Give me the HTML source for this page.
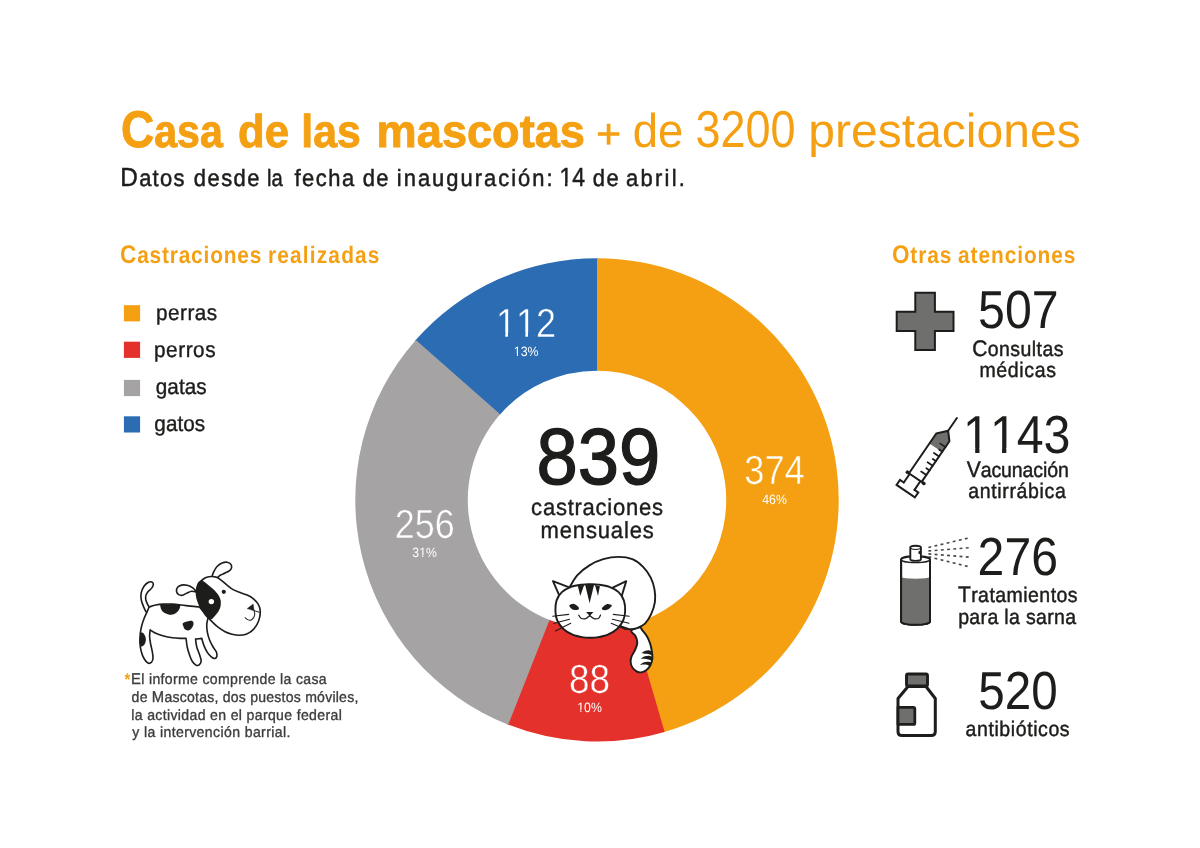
<!DOCTYPE html>
<html lang="es"><head><meta charset="utf-8"><title>Casa de las mascotas</title>
<style>
html,body{margin:0;padding:0;background:#fff}
body{width:1200px;height:848px;overflow:hidden}
svg{display:block;font-family:"Liberation Sans",sans-serif}
text{white-space:pre;text-rendering:geometricPrecision}
</style></head><body>
<svg width="1200" height="848" viewBox="0 0 1200 848">
<rect width="1200" height="848" fill="#fff"/>
<g id="donut">
<path fill="#2B6CB3" d="M415.00 340.85A241.7 241.7 0 0 1 598.27 258.20L597.68 370.70A129.2 129.2 0 0 0 499.71 414.88Z"/>
<path fill="#F4A012" d="M597.00 258.20A241.7 241.7 0 0 1 663.42 732.30L632.50 624.13A129.2 129.2 0 0 0 597.00 370.70Z"/>
<path fill="#E4312B" d="M664.63 731.94A241.7 241.7 0 0 1 507.04 724.24L548.91 619.82A129.2 129.2 0 0 0 633.15 623.94Z"/>
<path fill="#A5A3A4" d="M508.22 724.70A241.7 241.7 0 0 1 415.84 339.90L500.16 414.37A129.2 129.2 0 0 0 549.54 620.07Z"/>
</g>
<g id="title">
<g transform="translate(121.01 146.60) scale(0.8932 1)"><text font-size="46" font-weight="700" fill="#F4A012" stroke="#F4A012" stroke-width="0.9" aria-label="Casa"><tspan font-size="51.5">C</tspan>asa</text></g>
<g transform="translate(238.10 146.60) scale(0.9502 1)"><text font-size="46" font-weight="700" fill="#F4A012" stroke="#F4A012" stroke-width="0.9">de</text></g>
<g transform="translate(301.27 146.60) scale(0.9293 1)"><text font-size="46" font-weight="700" fill="#F4A012" stroke="#F4A012" stroke-width="0.9">las</text></g>
<g transform="translate(376.61 146.60) scale(0.9818 1)"><text font-size="46" font-weight="700" fill="#F4A012" stroke="#F4A012" stroke-width="0.9">mascotas</text></g>
<g transform="translate(595.91 147.70) scale(1.0302 1)"><text font-size="41.8" fill="#F4A012" stroke="#F4A012" stroke-width="0.5">+</text></g>
<g transform="translate(632.68 146.60) scale(0.9555 1)"><text font-size="47.6" fill="#F4A012">de</text></g>
<g transform="translate(695.43 146.60) scale(0.8640 1)"><text font-size="47.6" fill="#F4A012"><tspan font-size="52">3200</tspan></text></g>
<g transform="translate(808.37 146.60) scale(1.0090 1)"><text font-size="47.6" fill="#F4A012">prestaciones</text></g>
</g>
<g id="subtitle">
<g transform="translate(120.30 186.40) scale(0.9300 1)"><text font-size="23.6" fill="#1D1D1B" stroke="#1D1D1B" stroke-width="0.5" letter-spacing="1.35" aria-label="Datos"><tspan font-size="26.2">D</tspan>atos</text></g>
<g transform="translate(193.87 186.40) scale(0.9300 1)"><text font-size="23.6" fill="#1D1D1B" stroke="#1D1D1B" stroke-width="0.5" letter-spacing="1.54">desde</text></g>
<g transform="translate(266.94 186.40) scale(0.8567 1)"><text font-size="23.6" fill="#1D1D1B" stroke="#1D1D1B" stroke-width="0.5">la</text></g>
<g transform="translate(294.53 186.40) scale(0.9300 1)"><text font-size="23.6" fill="#1D1D1B" stroke="#1D1D1B" stroke-width="0.5" letter-spacing="1.60">fecha</text></g>
<g transform="translate(362.67 186.40) scale(0.9300 1)"><text font-size="23.6" fill="#1D1D1B" stroke="#1D1D1B" stroke-width="0.5" letter-spacing="1.58">de</text></g>
<g transform="translate(396.82 186.40) scale(0.9300 1)"><text font-size="23.6" fill="#1D1D1B" stroke="#1D1D1B" stroke-width="0.5" letter-spacing="2.15">inauguración:</text></g>
<g transform="translate(592.67 186.40) scale(0.9300 1)"><text font-size="23.6" fill="#1D1D1B" stroke="#1D1D1B" stroke-width="0.5" letter-spacing="1.69">de</text></g>
<g transform="translate(626.07 186.40) scale(0.9300 1)"><text font-size="23.6" fill="#1D1D1B" stroke="#1D1D1B" stroke-width="0.5" letter-spacing="2.42">abril.</text></g>
<g transform="translate(559.44 186.40) scale(0.8752 1)"><text font-size="23.6" fill="#1D1D1B" stroke="#1D1D1B" stroke-width="0.5" style="font-kerning:none"><tspan font-size="26.2">14</tspan></text><rect x="0.99" y="-3.41" width="5.31" height="4.01" fill="#fff"/><rect x="9.19" y="-3.41" width="5.06" height="4.01" fill="#fff"/></g>
</g>
<g id="headings">
<g transform="translate(120.10 262.80) scale(0.8800 1)"><text font-size="23.7" font-weight="700" fill="#F4A012" letter-spacing="0.93" aria-label="Castraciones"><tspan font-size="25.6">C</tspan>astraciones</text></g>
<g transform="translate(267.94 262.80) scale(0.8800 1)"><text font-size="23.7" font-weight="700" fill="#F4A012" letter-spacing="1.35">realizadas</text></g>
<g transform="translate(891.90 262.80) scale(0.8800 1)"><text font-size="23.7" font-weight="700" fill="#F4A012" letter-spacing="1.04" aria-label="Otras"><tspan font-size="25.6">O</tspan>tras</text></g>
<g transform="translate(957.98 262.80) scale(0.8800 1)"><text font-size="23.7" font-weight="700" fill="#F4A012" letter-spacing="1.08">atenciones</text></g>
</g>
<g id="legend">
<rect x="123.9" y="305.2" width="16.2" height="16.2" fill="#F4A012"/>
<rect x="123.9" y="341.7" width="16.2" height="16.2" fill="#E4312B"/>
<rect x="123.9" y="379.9" width="16.2" height="16.2" fill="#A5A3A4"/>
<rect x="123.9" y="416.3" width="16.2" height="16.2" fill="#2B6CB3"/>
<g transform="translate(155.96 319.80) scale(0.9400 1)"><text font-size="22" fill="#1D1D1B" stroke="#1D1D1B" stroke-width="0.4" letter-spacing="0.56">perras</text></g>
<g transform="translate(153.96 356.80) scale(0.9400 1)"><text font-size="22" fill="#1D1D1B" stroke="#1D1D1B" stroke-width="0.4" letter-spacing="0.63">perros</text></g>
<g transform="translate(155.67 394.10) scale(0.9400 1)"><text font-size="22" fill="#1D1D1B" stroke="#1D1D1B" stroke-width="0.4" letter-spacing="0.12">gatas</text></g>
<g transform="translate(154.37 431.30) scale(0.9400 1)"><text font-size="22" fill="#1D1D1B" stroke="#1D1D1B" stroke-width="0.4" letter-spacing="0.06">gatos</text></g>
</g>
<g id="dlabels">
<g transform="translate(495.98 336.90) scale(0.8877 1)"><text font-size="40.6" fill="#fff" stroke="#2B6CB3" stroke-width="0.5" style="font-kerning:none">112</text><rect x="1.98" y="-4.23" width="8.52" height="4.83" fill="#2B6CB3"/><rect x="13.52" y="-4.23" width="7.52" height="4.83" fill="#2B6CB3"/><rect x="24.56" y="-4.23" width="8.52" height="4.83" fill="#2B6CB3"/><rect x="36.10" y="-4.23" width="7.52" height="4.83" fill="#2B6CB3"/></g>
<g transform="translate(513.81 356.20) scale(0.9145 1)"><text font-size="13.5" fill="#fff">13%</text><rect x="0.12" y="-2.21" width="3.27" height="2.81" fill="#2B6CB3"/><rect x="4.59" y="-2.21" width="2.90" height="2.81" fill="#2B6CB3"/></g>
<g transform="translate(744.28 484.40) scale(0.8934 1)"><text font-size="40.6" fill="#fff" stroke="#F4A012" stroke-width="0.5">374</text></g>
<g transform="translate(762.25 503.90) scale(0.9091 1)"><text font-size="13.5" fill="#fff">46%</text></g>
<g transform="translate(394.75 537.50) scale(0.8870 1)"><text font-size="40.6" fill="#fff" stroke="#A5A3A4" stroke-width="0.5">256</text></g>
<g transform="translate(412.37 557.20) scale(0.9047 1)"><text font-size="13.5" fill="#fff">31%</text><rect x="7.63" y="-2.21" width="3.27" height="2.81" fill="#A5A3A4"/><rect x="12.10" y="-2.21" width="2.90" height="2.81" fill="#A5A3A4"/></g>
<g transform="translate(568.97 692.80) scale(0.9101 1)"><text font-size="40.6" fill="#fff" stroke="#E4312B" stroke-width="0.5">88</text></g>
<g transform="translate(577.22 712.00) scale(0.9105 1)"><text font-size="13.5" fill="#fff">10%</text><rect x="0.12" y="-2.21" width="3.27" height="2.81" fill="#E4312B"/><rect x="4.59" y="-2.21" width="2.90" height="2.81" fill="#E4312B"/></g>
</g>
<g id="center">
<g transform="translate(536.48 483.50) scale(0.9329 1)"><text font-size="79.5" fill="#1D1D1B" stroke="#1D1D1B" stroke-width="1.4">839</text></g>
<g transform="translate(531.12 514.90) scale(0.9500 1)"><text font-size="23.2" fill="#1D1D1B" stroke="#1D1D1B" stroke-width="0.4" letter-spacing="0.79">castraciones</text></g>
<g transform="translate(540.52 537.90) scale(0.9500 1)"><text font-size="23.2" fill="#1D1D1B" stroke="#1D1D1B" stroke-width="0.4" letter-spacing="0.88">mensuales</text></g>
</g>
<g id="right">
<g transform="translate(978.12 327.60) scale(0.9002 1)"><text font-size="53.6" fill="#1D1D1B">507</text></g>
<g transform="translate(972.17 356.00) scale(0.9300 1)"><text font-size="21" fill="#1D1D1B" stroke="#1D1D1B" stroke-width="0.45" letter-spacing="0.45" aria-label="Consultas"><tspan font-size="22.6">C</tspan>onsultas</text></g>
<g transform="translate(979.46 377.40) scale(0.9300 1)"><text font-size="21" fill="#1D1D1B" stroke="#1D1D1B" stroke-width="0.45" letter-spacing="0.68">médicas</text></g>
<g transform="translate(963.05 453.00) scale(0.9010 1)"><text font-size="53.6" fill="#1D1D1B" style="font-kerning:none">1143</text><rect x="2.86" y="-5.20" width="10.61" height="5.80" fill="#fff"/><rect x="18.22" y="-5.20" width="9.73" height="5.80" fill="#fff"/><rect x="32.67" y="-5.20" width="10.61" height="5.80" fill="#fff"/><rect x="48.03" y="-5.20" width="9.73" height="5.80" fill="#fff"/></g>
<g transform="translate(966.73 477.30) scale(0.9300 1)"><text font-size="21" fill="#1D1D1B" stroke="#1D1D1B" stroke-width="0.45" letter-spacing="-0.11" aria-label="Vacunación"><tspan font-size="22.6">V</tspan>acunación</text></g>
<g transform="translate(968.29 498.40) scale(0.9300 1)"><text font-size="21" fill="#1D1D1B" stroke="#1D1D1B" stroke-width="0.45" letter-spacing="0.68">antirrábica</text></g>
<g transform="translate(977.59 574.70) scale(0.8989 1)"><text font-size="53.6" fill="#1D1D1B">276</text></g>
<g transform="translate(957.90 602.20) scale(0.9300 1)"><text font-size="21" fill="#1D1D1B" stroke="#1D1D1B" stroke-width="0.45" letter-spacing="0.47" aria-label="Tratamientos"><tspan font-size="22.6">T</tspan>ratamientos</text></g>
<g transform="translate(958.15 623.60) scale(0.9300 1)"><text font-size="21" fill="#1D1D1B" stroke="#1D1D1B" stroke-width="0.45" letter-spacing="0.36">para la sarna</text></g>
<g transform="translate(978.20 708.80) scale(0.8881 1)"><text font-size="53.6" fill="#1D1D1B">520</text></g>
<g transform="translate(965.54 735.80) scale(0.9300 1)"><text font-size="21" fill="#1D1D1B" stroke="#1D1D1B" stroke-width="0.45" letter-spacing="0.62">antibióticos</text></g>
</g>
<g id="foot">
<g transform="translate(124.50 684.60) scale(0.8748 1)"><text font-size="17" font-weight="700" fill="#F4A012">*</text></g>
<g transform="translate(130.99 683.70) scale(0.9500 1)"><text font-size="14.8" fill="#3C3C3B" stroke="#3C3C3B" stroke-width="0.35" letter-spacing="0.36" aria-label="El informe comprende la casa"><tspan font-size="15.6">E</tspan>l informe comprende la casa</text></g>
<g transform="translate(131.61 701.70) scale(0.9500 1)"><text font-size="14.8" fill="#3C3C3B" stroke="#3C3C3B" stroke-width="0.35" letter-spacing="0.24" aria-label="de Mascotas, dos puestos móviles,">de <tspan font-size="15.6">M</tspan>ascotas, dos puestos móviles,</text></g>
<g transform="translate(131.26 719.50) scale(0.9500 1)"><text font-size="14.8" fill="#3C3C3B" stroke="#3C3C3B" stroke-width="0.35" letter-spacing="0.37">la actividad en el parque federal</text></g>
<g transform="translate(132.18 737.40) scale(0.9500 1)"><text font-size="14.8" fill="#3C3C3B" stroke="#3C3C3B" stroke-width="0.35" letter-spacing="0.41">y la intervención barrial.</text></g>
</g>
<g id="icon-cross" fill="#6F6F6E" stroke="#1D1D1B" stroke-width="2" stroke-linejoin="miter">
<path d="M915.3 292.8H934.9V311.7H953.5V331H934.9V349.9H915.3V331H896.7V311.7H915.3Z"/>
</g>
<g id="icon-syringe" transform="translate(956.9 418) rotate(34.4)" fill="none" stroke="#1D1D1B" stroke-width="2" stroke-linecap="round" stroke-linejoin="round">
<path d="M0 0V15.5"/>
<path d="M-8.3 24.4L0 15.5L7 23.4V36.5H-8.3Z" fill="#6F6F6E" stroke="none"/>
<path d="M-8.3 72V24.4L0 15.5L7 23.4V72"/>
<path d="M7 30.5H0.8M7 36.1H3.2M7 41.8H0.8M7 47.4H3.2M7 53.1H0.8M7 58.7H3.2M7 64.4H0.8" stroke-width="1.8"/>
<path d="M-10.2 72.7H9.6" stroke-width="2"/>
<circle cx="-10.2" cy="72.7" r="1.5" fill="#1D1D1B" stroke-width="0.8"/><circle cx="9.6" cy="72.7" r="1.5" fill="#1D1D1B" stroke-width="0.8"/>
<path d="M-7.4 73.5V83.2M5.6 73.5V83.2"/>
<path d="M-7.4 83.2H-12V89.3H10.2V83.2H5.6" stroke-linejoin="miter"/>
</g>
<g id="icon-spray">
<path d="M928.4 547.5L968.2 538.1M928.4 550.9L968.9 547.8M928.4 553.9L968.9 557.1M928.4 556.7L968.2 566.5" fill="none" stroke="#4a4a49" stroke-width="1.6" stroke-dasharray="2.9 3.35"/>
<path d="M901.1 559.5V621.6A14.45 3.2 0 0 0 930 621.6V559.5A14.45 3.2 0 0 0 901.1 559.5Z" fill="#fff" stroke="#1D1D1B" stroke-width="2"/>
<path d="M901.6 577.2A14 1.6 0 0 0 929.5 577.2V621.6A14 3 0 0 1 901.6 621.6Z" fill="#6F6F6E"/>
<path d="M901.1 559.5V621.6A14.45 3.2 0 0 0 930 621.6V559.5" fill="none" stroke="#1D1D1B" stroke-width="2"/>
<path d="M901.1 559.5A14.45 3.2 0 0 0 930 559.5" fill="none" stroke="#1D1D1B" stroke-width="1.3"/>
<path d="M910.3 559.3V547.6A5.3 1.9 0 0 1 920.9 547.6V559.3A5.3 1.6 0 0 1 910.3 559.3Z" fill="#fff" stroke="#1D1D1B" stroke-width="1.9"/>
<path d="M910.3 547.6A5.3 1.9 0 0 0 920.9 547.6" fill="none" stroke="#1D1D1B" stroke-width="1.1"/>
<ellipse cx="919.3" cy="552.5" rx="0.9" ry="1.8" fill="#1D1D1B"/>
</g>
<g id="icon-bottle" stroke="#1D1D1B" stroke-linejoin="round">
<path d="M908 686.5L898 698.5V731.5Q898 735.5 902 735.5H931Q935.3 735.5 935.3 731.5V698.5L926 686.5Z" fill="#fff" stroke-width="3"/>
<rect x="906.5" y="674" width="21" height="12" rx="1.5" fill="#6F6F6E" stroke-width="2.9"/>
<path d="M898 707.3H913.3Q914.8 707.3 914.8 708.8V722.9Q914.8 724.4 913.3 724.4H898Z" fill="#6F6F6E" stroke-width="2.8"/>
</g>
<g id="dog-body" transform="translate(130 575) scale(0.11208)" fill="#fff" stroke="#1D1D1B" stroke-width="14.5" stroke-linecap="round" stroke-linejoin="round">
<path d="M150.0 335.0C139.2 328.3 128.3 299.2 120.0 280.0C111.7 260.8 103.3 240.0 100.0 220.0C96.7 200.0 95.8 180.0 100.0 160.0C104.2 140.0 114.2 115.8 125.0 100.0C135.8 84.2 153.3 71.3 165.0 65.0C176.7 58.7 187.8 59.2 195.0 62.0C202.2 64.8 208.0 73.2 208.0 82.0C208.0 90.8 203.0 103.7 195.0 115.0C187.0 126.3 169.2 137.5 160.0 150.0C150.8 162.5 142.5 175.8 140.0 190.0C137.5 204.2 140.0 218.8 145.0 235.0C150.0 251.2 163.3 272.8 170.0 287.0C176.7 301.2 188.3 312.0 185.0 320.0C181.7 328.0 160.8 341.7 150.0 335.0Z"/>
<path d="M170.0 286.0C180.0 283.0 208.3 272.3 230.0 268.0C251.7 263.7 275.0 261.3 300.0 260.0C325.0 258.7 353.3 258.7 380.0 260.0C406.7 261.3 433.3 265.0 460.0 268.0C486.7 271.0 513.3 275.0 540.0 278.0C566.7 281.0 606.7 284.7 620.0 286.0L620.0 286.0C626.7 293.3 647.2 314.3 660.0 330.0C672.8 345.7 690.8 371.7 697.0 380.0L697.0 380.0C695.0 390.0 686.2 418.3 685.0 440.0C683.8 461.7 685.8 486.7 690.0 510.0C694.2 533.3 701.7 558.3 710.0 580.0C718.3 601.7 730.0 622.5 740.0 640.0C750.0 657.5 764.2 670.8 770.0 685.0C775.8 699.2 777.5 715.0 775.0 725.0C772.5 735.0 763.3 744.2 755.0 745.0C746.7 745.8 735.8 739.2 725.0 730.0C714.2 720.8 700.8 706.7 690.0 690.0C679.2 673.3 668.3 650.8 660.0 630.0C651.7 609.2 643.3 575.8 640.0 565.0L640.0 565.0C630.8 566.2 594.2 570.8 585.0 572.0L585.0 572.0C586.7 583.3 589.2 617.0 595.0 640.0C600.8 663.0 613.3 689.2 620.0 710.0C626.7 730.8 635.0 750.0 635.0 765.0C635.0 780.0 627.5 793.3 620.0 800.0C612.5 806.7 600.8 810.0 590.0 805.0C579.2 800.0 565.0 785.8 555.0 770.0C545.0 754.2 537.5 731.7 530.0 710.0C522.5 688.3 515.0 664.2 510.0 640.0C505.0 615.8 501.7 577.5 500.0 565.0L500.0 565.0C491.7 565.0 470.0 565.8 450.0 565.0C430.0 564.2 405.0 563.3 380.0 560.0C355.0 556.7 325.0 551.7 300.0 545.0C275.0 538.3 250.0 529.2 230.0 520.0C210.0 510.8 188.3 495.0 180.0 490.0L180.0 490.0C179.2 500.0 174.2 528.3 175.0 550.0C175.8 571.7 180.8 596.7 185.0 620.0C189.2 643.3 196.7 669.2 200.0 690.0C203.3 710.8 206.7 730.0 205.0 745.0C203.3 760.0 197.5 773.3 190.0 780.0C182.5 786.7 170.8 790.8 160.0 785.0C149.2 779.2 135.0 762.5 125.0 745.0C115.0 727.5 106.2 704.2 100.0 680.0C93.8 655.8 89.3 626.7 88.0 600.0C86.7 573.3 89.2 545.0 92.0 520.0C94.8 495.0 99.5 471.7 105.0 450.0C110.5 428.3 117.2 410.0 125.0 390.0C132.8 370.0 144.5 347.3 152.0 330.0C159.5 312.7 167.0 293.3 170.0 286.0Z"/>
<path d="M268.0 263.0C270.0 270.8 273.0 297.2 280.0 310.0C287.0 322.8 297.5 332.5 310.0 340.0C322.5 347.5 340.0 354.2 355.0 355.0C370.0 355.8 386.7 351.7 400.0 345.0C413.3 338.3 426.5 327.8 435.0 315.0C443.5 302.2 448.3 275.8 451.0 268.0L380 259Z" fill="#1D1D1B" stroke="none"/>
<path d="M472.0 430.0C477.8 423.3 496.2 418.3 510.0 415.0C523.8 411.7 545.5 406.3 555.0 410.0C564.5 413.7 567.8 426.2 567.0 437.0C566.2 447.8 557.8 465.3 550.0 475.0C542.2 484.7 530.0 493.3 520.0 495.0C510.0 496.7 497.5 491.7 490.0 485.0C482.5 478.3 478.0 464.2 475.0 455.0C472.0 445.8 466.2 436.7 472.0 430.0Z" fill="#1D1D1B" stroke="none"/>
<path d="M92.0 508.0C96.7 510.0 112.0 511.3 120.0 520.0C128.0 528.7 137.0 546.7 140.0 560.0C143.0 573.3 141.3 588.3 138.0 600.0C134.7 611.7 127.5 623.0 120.0 630.0C112.5 637.0 97.5 640.0 93.0 642.0L87 600Z" fill="#1D1D1B" stroke="none"/>
<path d="M592.0 150.0C586.7 144.2 573.7 124.7 560.0 115.0C546.3 105.3 526.7 96.2 510.0 92.0C493.3 87.8 474.2 87.0 460.0 90.0C445.8 93.0 432.5 100.8 425.0 110.0C417.5 119.2 413.3 134.2 415.0 145.0C416.7 155.8 425.8 169.2 435.0 175.0C444.2 180.8 457.5 182.5 470.0 180.0C482.5 177.5 496.7 165.8 510.0 160.0C523.3 154.2 536.7 146.3 550.0 145.0C563.3 143.7 583.3 150.8 590.0 152.0Z"/>
</g>
<g id="dog-head" transform="translate(190 555) scale(0.10025)" fill="#fff" stroke="#1D1D1B" stroke-width="16.2" stroke-linecap="round" stroke-linejoin="round">
<path d="M220.0 215.0C222.5 207.5 226.7 186.7 235.0 170.0C243.3 153.3 255.8 130.0 270.0 115.0C284.2 100.0 303.3 87.2 320.0 80.0C336.7 72.8 355.8 70.3 370.0 72.0C384.2 73.7 397.5 81.2 405.0 90.0C412.5 98.8 416.7 114.2 415.0 125.0C413.3 135.8 405.8 145.8 395.0 155.0C384.2 164.2 365.0 172.5 350.0 180.0C335.0 187.5 318.3 192.0 305.0 200.0C291.7 208.0 275.8 223.3 270.0 228.0Z"/>
<path d="M120.0 250.0C131.7 241.7 144.2 230.8 160.0 225.0C175.8 219.2 196.7 215.0 215.0 215.0C233.3 215.0 254.2 219.2 270.0 225.0C285.8 230.8 293.3 237.5 310.0 250.0C326.7 262.5 350.0 284.2 370.0 300.0C390.0 315.8 408.3 332.5 430.0 345.0C451.7 357.5 476.7 365.8 500.0 375.0C523.3 384.2 548.3 390.0 570.0 400.0C591.7 410.0 611.7 420.0 630.0 435.0C648.3 450.0 668.3 470.8 680.0 490.0C691.7 509.2 697.5 528.3 700.0 550.0C702.5 571.7 700.0 596.7 695.0 620.0C690.0 643.3 682.5 667.5 670.0 690.0C657.5 712.5 638.3 738.3 620.0 755.0C601.7 771.7 581.7 782.5 560.0 790.0C538.3 797.5 513.3 800.0 490.0 800.0C466.7 800.0 443.3 795.8 420.0 790.0C396.7 784.2 373.3 776.7 350.0 765.0C326.7 753.3 301.7 736.7 280.0 720.0C258.3 703.3 235.0 679.2 220.0 665.0C205.0 650.8 201.7 647.5 190.0 635.0C178.3 622.5 163.3 607.5 150.0 590.0C136.7 572.5 121.7 551.7 110.0 530.0C98.3 508.3 87.5 483.3 80.0 460.0C72.5 436.7 66.7 413.3 65.0 390.0C63.3 366.7 65.8 339.2 70.0 320.0C74.2 300.8 81.7 286.7 90.0 275.0C98.3 263.3 108.3 258.3 120.0 250.0Z"/>
<path d="M120.0 250.0C128.3 256.7 151.7 275.0 170.0 290.0C188.3 305.0 211.7 322.5 230.0 340.0C248.3 357.5 267.5 376.7 280.0 395.0C292.5 413.3 300.8 430.8 305.0 450.0C309.2 469.2 308.3 491.7 305.0 510.0C301.7 528.3 294.2 544.2 285.0 560.0C275.8 575.8 261.7 591.7 250.0 605.0C238.3 618.3 225.0 635.0 215.0 640.0C205.0 645.0 194.2 635.8 190.0 635.0C183.3 627.5 163.3 607.5 150.0 590.0C136.7 572.5 121.7 551.7 110.0 530.0C98.3 508.3 87.5 483.3 80.0 460.0C72.5 436.7 66.7 413.3 65.0 390.0C63.3 366.7 65.8 339.2 70.0 320.0C74.2 300.8 81.7 286.7 90.0 275.0C98.3 263.3 115.0 254.2 120.0 250.0Z" fill="#1D1D1B" stroke="none"/>
<circle cx="213" cy="465" r="27" fill="#fff" stroke="none"/>
<circle cx="337" cy="367" r="21" fill="#1D1D1B" stroke="none"/>
<path d="M572 533L630 490L640 555Z" fill="#1D1D1B" stroke="#1D1D1B" stroke-width="4"/>
<path d="M640 555L692 572" fill="none" stroke-width="10"/>
<path d="M640.0 555.0C641.0 560.8 646.8 578.3 646.0 590.0C645.2 601.7 641.8 615.0 635.0 625.0C628.2 635.0 615.0 646.7 605.0 650.0C595.0 653.3 584.2 649.2 575.0 645.0C565.8 640.8 554.2 628.3 550.0 625.0" fill="none" stroke-width="10"/>
</g>
<g id="cat-tail" transform="translate(620 620) scale(0.07075)" fill="#fff" stroke="#1D1D1B" stroke-width="27" stroke-linecap="round" stroke-linejoin="round">
<path d="M285.0 100.0C264.2 108.3 170.8 128.3 160.0 150.0C149.2 171.7 205.8 201.7 220.0 230.0C234.2 258.3 245.8 288.3 245.0 320.0C244.2 351.7 228.3 388.3 215.0 420.0C201.7 451.7 175.8 481.7 165.0 510.0C154.2 538.3 148.3 563.3 150.0 590.0C151.7 616.7 160.8 647.5 175.0 670.0C189.2 692.5 214.2 713.3 235.0 725.0C255.8 736.7 277.5 742.5 300.0 740.0C322.5 737.5 348.3 726.7 370.0 710.0C391.7 693.3 415.3 668.3 430.0 640.0C444.7 611.7 454.7 573.3 458.0 540.0C461.3 506.7 455.5 475.0 450.0 440.0C444.5 405.0 436.7 365.0 425.0 330.0C413.3 295.0 397.5 260.0 380.0 230.0C362.5 200.0 330.0 163.3 320.0 150.0Z"/>
<path d="M300.0 468.0C308.3 462.8 331.7 443.7 350.0 437.0C368.3 430.3 393.8 426.2 410.0 428.0C426.2 429.8 440.8 444.7 447.0 448.0L452.0 500.0C443.3 497.0 417.0 485.7 400.0 482.0C383.0 478.3 366.7 480.3 350.0 478.0C333.3 475.7 308.3 469.7 300.0 468.0Z" fill="#1D1D1B" stroke="none"/>
<path d="M292.0 548.0C301.7 542.3 330.3 521.2 350.0 514.0C369.7 506.8 392.3 504.3 410.0 505.0C427.7 505.7 448.3 515.8 456.0 518.0L456.0 578.0C446.7 574.7 419.3 562.8 400.0 558.0C380.7 553.2 358.0 550.7 340.0 549.0C322.0 547.3 300.0 548.2 292.0 548.0Z" fill="#1D1D1B" stroke="none"/>
<path d="M284.0 636.0C291.7 630.2 312.3 608.7 330.0 601.0C347.7 593.3 371.3 590.5 390.0 590.0C408.7 589.5 433.3 596.7 442.0 598.0L424.0 652.0C416.7 648.7 395.7 635.8 380.0 632.0C364.3 628.2 346.0 628.3 330.0 629.0C314.0 629.7 291.7 634.8 284.0 636.0Z" fill="#1D1D1B" stroke="none"/>
</g>
<g id="cat" transform="translate(545 550) scale(0.15326)" fill="#fff" stroke="#1D1D1B" stroke-width="12.5" stroke-linecap="round" stroke-linejoin="round">
<path d="M158.0 248.0C166.7 234.2 188.0 189.7 210.0 165.0C232.0 140.3 261.7 117.5 290.0 100.0C318.3 82.5 348.3 69.2 380.0 60.0C411.7 50.8 448.3 45.0 480.0 45.0C511.7 45.0 543.3 49.2 570.0 60.0C596.7 70.8 620.0 90.0 640.0 110.0C660.0 130.0 677.5 155.0 690.0 180.0C702.5 205.0 710.5 233.3 715.0 260.0C719.5 286.7 720.8 313.3 717.0 340.0C713.2 366.7 702.8 396.7 692.0 420.0C681.2 443.3 667.3 465.0 652.0 480.0C636.7 495.0 617.0 503.8 600.0 510.0C583.0 516.2 566.7 518.7 550.0 517.0C533.3 515.3 508.3 502.8 500.0 500.0L300 400Z"/>
<path d="M52 203L162 246L96 302Z"/>
<path d="M530 203L432 250L500 302Z"/>
<path d="M68.0 400.0C67.2 378.3 68.0 350.8 75.0 330.0C82.0 309.2 94.2 290.0 110.0 275.0C125.8 260.0 148.3 248.2 170.0 240.0C191.7 231.8 219.2 228.7 240.0 226.0C260.8 223.3 276.7 224.0 295.0 224.0C313.3 224.0 329.2 223.3 350.0 226.0C370.8 228.7 398.3 231.8 420.0 240.0C441.7 248.2 464.2 260.0 480.0 275.0C495.8 290.0 507.8 309.2 515.0 330.0C522.2 350.8 523.8 378.3 523.0 400.0C522.2 421.7 518.8 440.8 510.0 460.0C501.2 479.2 486.7 499.7 470.0 515.0C453.3 530.3 431.7 542.8 410.0 552.0C388.3 561.2 359.2 566.5 340.0 570.0C320.8 573.5 310.0 573.0 295.0 573.0C280.0 573.0 269.2 573.5 250.0 570.0C230.8 566.5 201.7 561.2 180.0 552.0C158.3 542.8 136.7 530.3 120.0 515.0C103.3 499.7 88.7 479.2 80.0 460.0C71.3 440.8 68.8 421.7 68.0 400.0Z"/>
<path d="M214 234L256 227L230 300Z" fill="#1D1D1B" stroke="none"/>
<path d="M262 226L320 226L291 348Z" fill="#1D1D1B" stroke="none"/>
<path d="M326 228L358 236L346 300Z" fill="#1D1D1B" stroke="none"/>
<path d="M160.0 360.0C164.2 356.2 180.0 349.5 190.0 352.0C200.0 354.5 215.8 368.7 220.0 375.0C224.2 381.3 220.8 387.5 215.0 390.0C209.2 392.5 193.3 392.5 185.0 390.0C176.7 387.5 169.2 380.0 165.0 375.0C160.8 370.0 155.8 363.8 160.0 360.0Z" fill="#1D1D1B" stroke="none"/>
<path d="M435.0 360.0C430.8 356.8 415.5 350.0 405.0 353.0C394.5 356.0 376.2 371.5 372.0 378.0C367.8 384.5 373.7 390.3 380.0 392.0C386.3 393.7 401.7 391.3 410.0 388.0C418.3 384.7 425.8 376.7 430.0 372.0C434.2 367.3 439.2 363.2 435.0 360.0Z" fill="#1D1D1B" stroke="none"/>
<path d="M268 405L316 405L292 430Z" fill="#1D1D1B" stroke="none"/>
<path d="M220.0 425.0C222.5 428.3 227.5 441.2 235.0 445.0C242.5 448.8 255.5 450.8 265.0 448.0C274.5 445.2 287.5 431.3 292.0 428.0L292.0 428.0C296.7 431.3 310.3 445.2 320.0 448.0C329.7 450.8 343.0 448.8 350.0 445.0C357.0 441.2 360.0 428.3 362.0 425.0" fill="none" stroke-width="8"/>
<path d="M50 432L155 420M55 480L160 452M68 528L168 478M445 420L550 432M440 452L548 478M432 478L530 520" fill="none" stroke-width="7"/>
</g>
</svg>
</body></html>
